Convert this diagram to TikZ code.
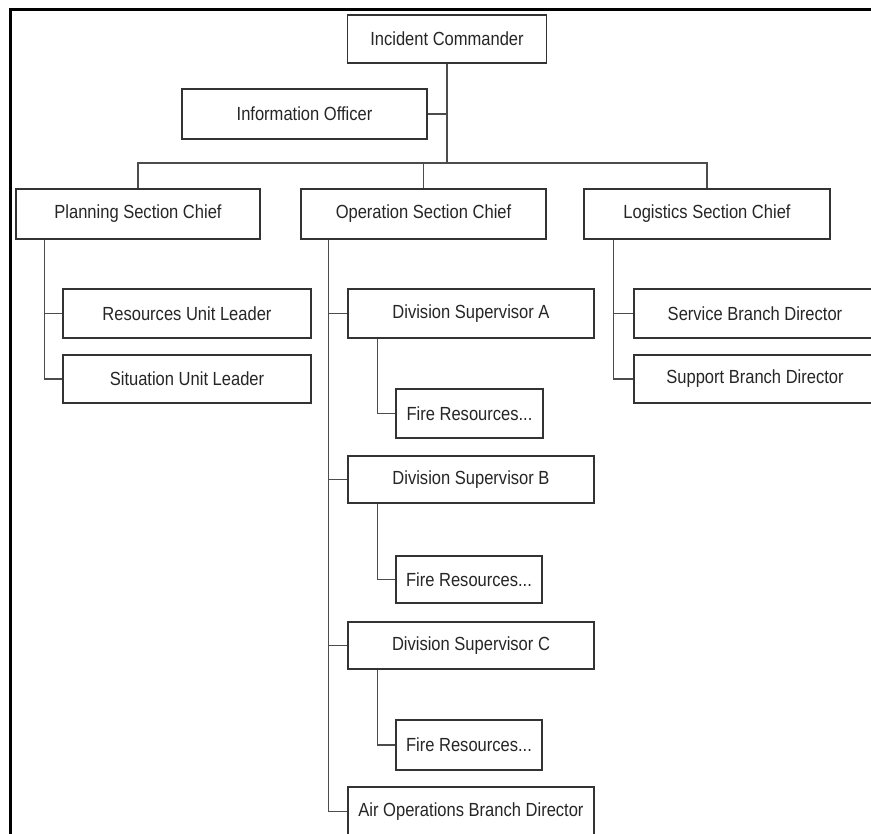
\documentclass[tikz,border=0pt]{standalone}
\usepackage{fontspec}
\newfontfamily\labfont[FakeStretch=0.87]{Liberation Sans}
\begin{document}
\begin{tikzpicture}[x=1pt,y=-1pt,
  box/.style={draw=black!80, line width=1.4pt, rectangle, inner sep=0pt,
    minimum height=49pt, text=black!85, font=\labfont\fontsize{19}{22}\selectfont},
  link/.style={draw=black!70, line width=1.3pt},
  frameline/.style={draw=black, line width=3pt}]
\useasboundingbox (0,0) rectangle (871,834);
\clip (0,0) rectangle (871,834);
\fill[white] (0,0) rectangle (871,834);
% frame
\coordinate (ftl) at (9,9.5);
\coordinate (ftr) at (871,9.5);
\coordinate (fll) at (10.5,8);
\coordinate (flb) at (10.5,834);
\draw[frameline] (ftl) -- (ftr);
\draw[frameline] (fll) -- (flb);
% boxes
\node[box, minimum width=199pt, minimum height=48pt] (IC) at (447,39) {Incident Commander};
\node[box, minimum width=245pt, minimum height=50pt] (IO) at (304.5,114) {Information Officer};
\node[box, minimum width=244pt, minimum height=50pt] (PSC) at (138,214) {Planning Section Chief};
\node[box, minimum width=245pt, minimum height=50pt] (OSC) at (423.5,214) {Operation Section Chief};
\node[box, minimum width=246pt, minimum height=50pt] (LSC) at (707,214) {Logistics Section Chief};
\node[box, minimum width=248pt] (RUL) at (187,313.5) {Resources Unit Leader};
\node[box, minimum width=248pt, minimum height=48pt] (SUL) at (187,379) {Situation Unit Leader};
\node[box, minimum width=246pt] (DSA) at (471,313.5) {Division Supervisor A};
\node[box, minimum width=147pt] (FRA) at (469.5,413.5) {Fire Resources...};
\node[box, minimum width=246pt, minimum height=47pt] (DSB) at (471,479.5) {Division Supervisor B};
\node[box, minimum width=146pt, minimum height=47pt] (FRB) at (469,579.5) {Fire Resources...};
\node[box, minimum width=246pt, minimum height=47pt] (DSC) at (471,645.5) {Division Supervisor C};
\node[box, minimum width=146pt, minimum height=50pt] (FRC) at (469,745) {Fire Resources...};
\node[box, minimum width=246pt] (AOB) at (471,811.5) {Air Operations Branch Director};
\node[box, minimum width=242pt] (SBD) at (755,313.5) {Service Branch Director};
\node[box, minimum width=242pt, minimum height=48pt] (SPD) at (755,379) {Support Branch Director};
% top connectors
\coordinate (bus) at (IC.south |- 0,163);
\draw[link] (IC.south) -- (bus);
\draw[link] (IO.east) -- (IO.east -| bus);
\draw[link] (bus) -| (PSC.north);
\draw[link] (bus) -| (LSC.north);
\draw[link] (bus -| OSC.north) -- (OSC.north);
% planning
\draw[link] ([xshift=29pt]PSC.south west) |- (RUL.west);
\draw[link] ([xshift=29pt]PSC.south west) |- (SUL.west);
% operations
\draw[link] ([xshift=28pt]OSC.south west) |- (DSA.west);
\draw[link] ([xshift=28pt]OSC.south west) |- (DSB.west);
\draw[link] ([xshift=28pt]OSC.south west) |- (DSC.west);
\draw[link] ([xshift=28pt]OSC.south west) |- (AOB.west);
\draw[link] ([xshift=30pt]DSA.south west) |- (FRA.west);
\draw[link] ([xshift=30pt]DSB.south west) |- (FRB.west);
\draw[link] ([xshift=30pt]DSC.south west) |- (FRC.west);
% logistics
\draw[link] ([xshift=30pt]LSC.south west) |- (SBD.west);
\draw[link] ([xshift=30pt]LSC.south west) |- (SPD.west);
\end{tikzpicture}
\end{document}
